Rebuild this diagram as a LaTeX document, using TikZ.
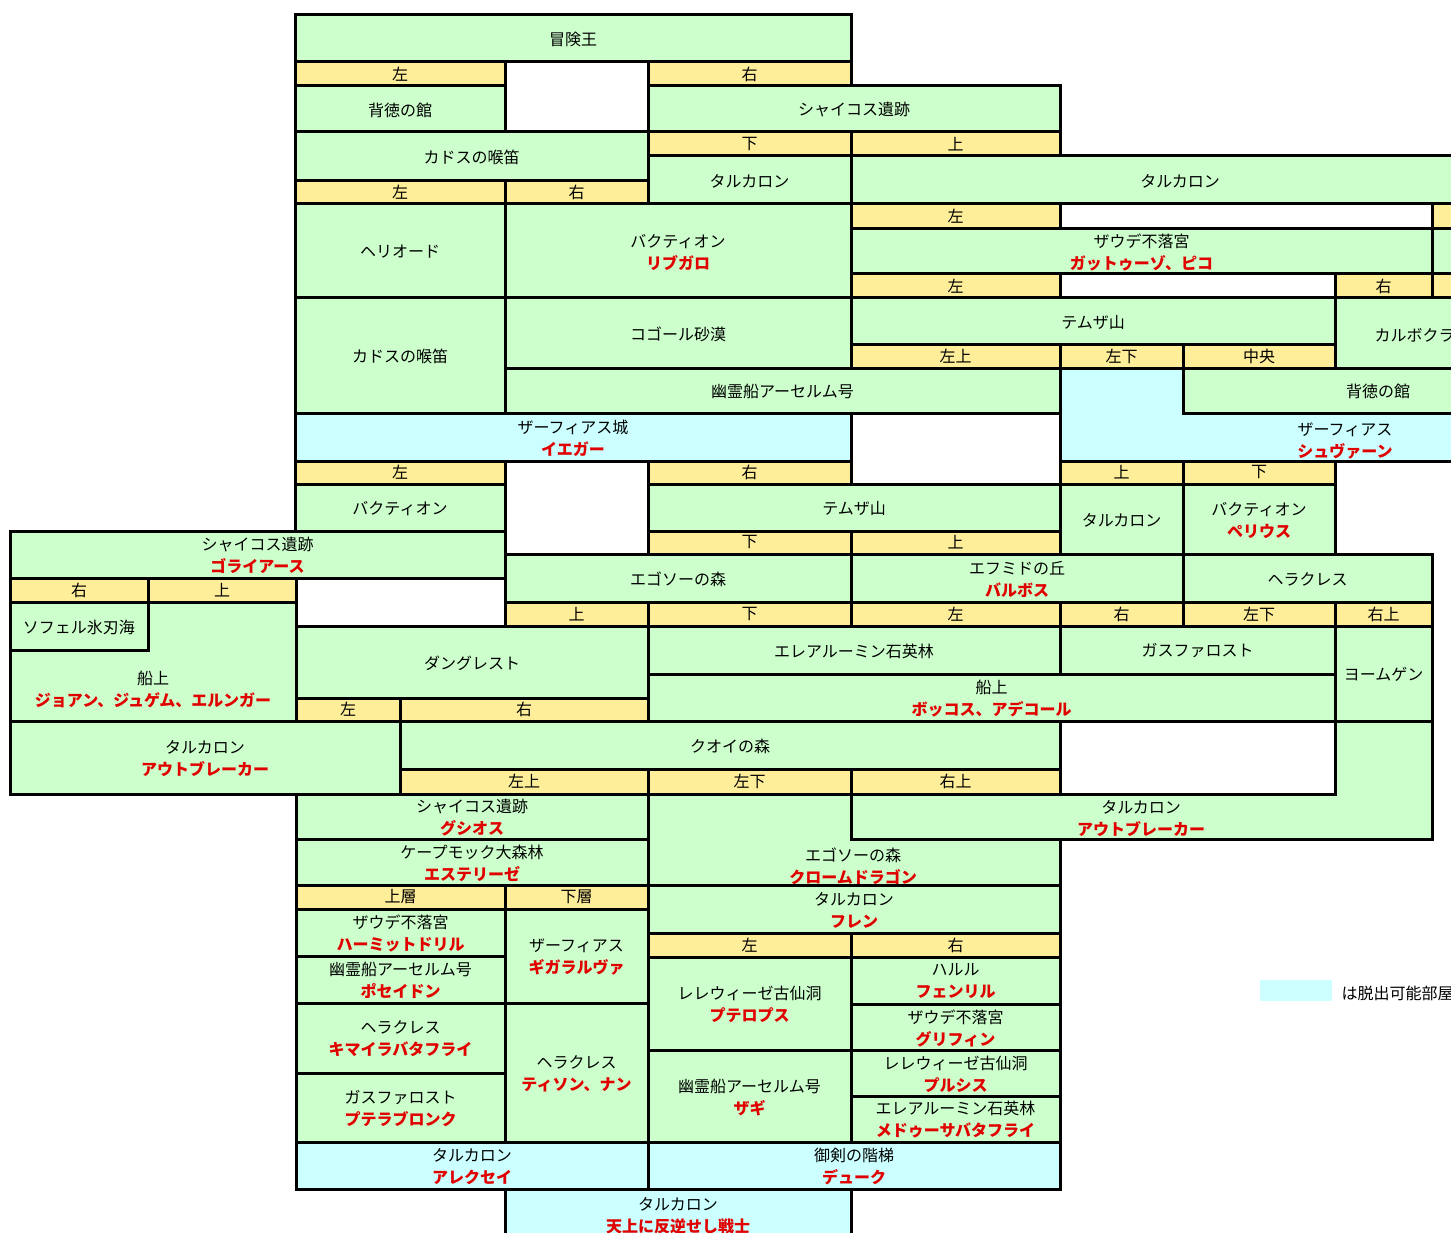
\documentclass[tikz,border=0pt]{standalone}
\usepackage{fontspec}
\setmainfont{Noto Sans CJK JP}
\definecolor{roomgreen}{RGB}{204,255,204}
\definecolor{doorgold}{RGB}{255,238,153}
\definecolor{exitblue}{RGB}{204,255,255}
\definecolor{foered}{RGB}{225,0,0}
\newcommand\foe[1]{{\bfseries\color{foered}#1}}

\begin{document}
\begin{tikzpicture}[x=1pt, y=-1pt, line width=3pt,
  room/.style={draw, fill=roomgreen},
  door/.style={draw, fill=doorgold},
  exitroom/.style={draw, fill=exitblue},
  lbl/.style={align=center, inner sep=0pt, font=\fontsize{16}{22}\selectfont}]

\useasboundingbox (0,0) rectangle (1451,1233);
\clip (0,0) rectangle (1451,1233);

% rooms
\foreach \xa/\ya/\xb/\yb/\txt in {
  295/15/851/62/冒険王, 295/86/505/132/背徳の館, 648/86/1060/132/シャイコス遺跡,
  295/132/648/181/カドスの喉笛, 648/156/851/204/タルカロン, 851/156/1509/204/タルカロン,
  295/204/505/298/ヘリオード, 505/204/851/298/バクティオン\\\foe{リブガロ},
  851/229/1432/274/ザウデ不落宮\\\foe{ガットゥーゾ、ピコ}, 1432/229/1600/274/{},
  295/298/505/413/カドスの喉笛, 505/298/851/368/コゴール砂漠, 851/298/1335/344/テムザ山,
  1335/298/1600/368/{}, 505/368/1060/413/幽霊船アーセルム号, 1183/368/1573/413/背徳の館,
  295/484/505/531/バクティオン, 648/484/1060/531/テムザ山,
  1060/484/1183/554/タルカロン, 1183/484/1335/554/バクティオン\\\foe{ペリウス},
  10/531/505/578/シャイコス遺跡\\\foe{ゴライアース},
  505/554/851/602/エゴソーの森, 851/554/1183/602/エフミドの丘\\\foe{バルボス}, 1183/554/1432/602/ヘラクレス,
  10/602/148/650/ソフェル氷刃海, 296/626/648/698/ダングレスト,
  648/626/1060/674/エレアルーミン石英林, 1060/626/1335/674/ガスファロスト, 1335/626/1432/721/ヨームゲン,
  648/674/1335/721/船上\\\foe{ボッコス、アデコール},
  10/721/400/794/タルカロン\\\foe{アウトブレーカー}, 400/721/1060/769/クオイの森,
  296/794/648/839/シャイコス遺跡\\\foe{グシオス}, 296/839/648/885/ケープモック大森林\\\foe{エステリーゼ},
  648/885/1060/933/タルカロン\\\foe{フレン},
  296/909/505/956/ザウデ不落宮\\\foe{ハーミットドリル}, 505/909/648/1003/ザーフィアス\\\foe{ギガラルヴァ},
  296/956/505/1003/幽霊船アーセルム号\\\foe{ポセイドン},
  648/957/851/1050/レレウィーゼ古仙洞\\\foe{プテロプス}, 851/957/1060/1004/ハルル\\\foe{フェンリル},
  296/1003/505/1073/ヘラクレス\\\foe{キマイラバタフライ}, 505/1003/648/1142/ヘラクレス\\\foe{ティソン、ナン},
  851/1004/1060/1050/ザウデ不落宮\\\foe{グリフィン}, 648/1050/851/1142/幽霊船アーセルム号\\\foe{ザギ},
  851/1050/1060/1096/レレウィーゼ古仙洞\\\foe{プルシス},
  296/1073/505/1142/ガスファロスト\\\foe{プテラブロンク},
  851/1096/1060/1142/エレアルーミン石英林\\\foe{メドゥーサバタフライ}}
{
  \filldraw[room] (\xa,\ya) rectangle (\xb,\yb);
  \node[lbl] (r-\xa-\ya) at ({(\xa+\xb)/2},{(\ya+\yb)/2+1}) {\txt};
}
\node[lbl, anchor=west] (carbo) at (1373,335) {カルボクラム};

% doors
\foreach \xa/\ya/\xb/\yb/\txt in {
  295/62/505/86/左, 648/62/851/86/右, 648/132/851/156/下, 851/132/1060/156/上,
  295/181/505/204/左, 505/181/648/204/右, 851/204/1060/229/左, 1432/204/1600/229/{},
  851/274/1060/298/左, 1335/274/1432/298/右, 1432/274/1600/298/{},
  851/344/1060/368/左上, 1060/344/1183/368/左下, 1183/344/1335/368/中央,
  295/461/505/484/左, 648/461/851/484/右, 1060/461/1183/484/上, 1183/461/1335/484/下,
  648/531/851/554/下, 851/531/1060/554/上, 10/578/148/602/右, 148/578/296/602/上,
  505/602/648/626/上, 648/602/851/626/下, 851/602/1060/626/左, 1060/602/1183/626/右,
  1183/602/1335/626/左下, 1335/602/1432/626/右上,
  296/698/400/721/左, 400/698/648/721/右,
  400/769/648/794/左上, 648/769/851/794/左下, 851/769/1060/794/右上,
  296/885/505/909/上層, 505/885/648/909/下層, 648/933/851/957/左, 851/933/1060/957/右}
{
  \filldraw[door] (\xa,\ya) rectangle (\xb,\yb);
  \node[lbl] (d-\xa-\ya) at ({(\xa+\xb)/2},{(\ya+\yb)/2}) {\txt};
}

% exits
\foreach \xa/\ya/\xb/\yb/\txt in {
  295/413/851/461/ザーフィアス城\\\foe{イエガー},
  296/1142/648/1189/タルカロン\\\foe{アレクセイ}, 648/1142/1060/1189/御剣の階梯\\\foe{デューク},
  505/1189/851/1240/タルカロン\\\foe{天上に反逆せし戦士}}
{
  \filldraw[exitroom] (\xa,\ya) rectangle (\xb,\yb);
  \node[lbl] (e-\xa-\ya) at ({(\xa+\xb)/2},{(\ya+\yb)/2+1}) {\txt};
}

% L-shaped rooms
\filldraw[exitroom] (1060,368) -- (1183,368) -- (1183,413) -- (1600,413) -- (1600,461) -- (1060,461) -- cycle;
\node[lbl] (schwann) at (1345,441) {ザーフィアス\\\foe{シュヴァーン}};
\filldraw[room] (148,602) -- (296,602) -- (296,721) -- (10,721) -- (10,650) -- (148,650) -- cycle;
\node[lbl] (ship) at (153,689) {船上\\\foe{ジョアン、ジュゲム、エルンガー}};
\filldraw[room] (1335,721) -- (1432,721) -- (1432,839) -- (851,839) -- (851,794) -- (1335,794) -- cycle;
\node[lbl] (outbreaker) at (1141,819) {タルカロン\\\foe{アウトブレーカー}};
\filldraw[room] (648,794) -- (851,794) -- (851,839) -- (1060,839) -- (1060,885) -- (648,885) -- cycle;
\node[lbl] (chrome) at (853,866) {エゴソーの森\\\foe{クロームドラゴン}};

% legend
\fill[exitblue] (1260,980) rectangle (1332,1001);
\node[lbl, anchor=west] (legend) at (1340,993) {は脱出可能部屋};

\end{tikzpicture}
\end{document}
